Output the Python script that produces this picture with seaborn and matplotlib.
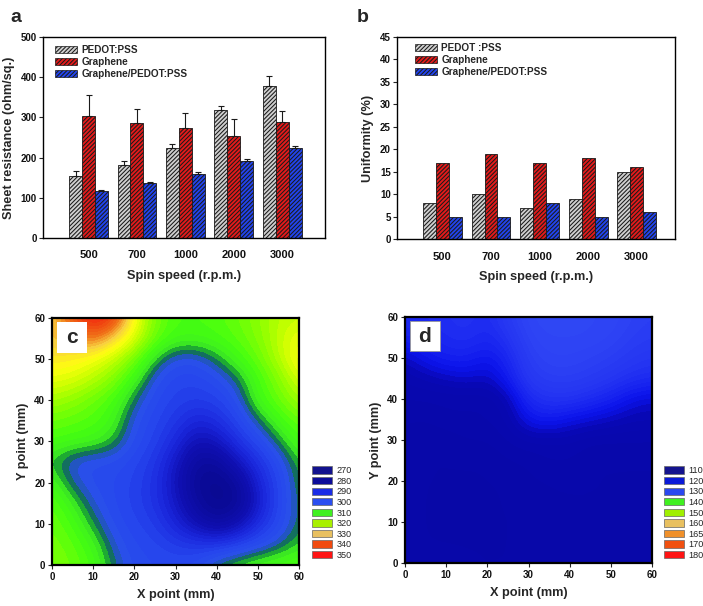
import numpy as np
import pandas as pd
import matplotlib
matplotlib.use('Agg')
import matplotlib.pyplot as plt
import seaborn as sns
from matplotlib.colors import LinearSegmentedColormap, Normalize
from matplotlib.patches import Patch, Rectangle

# ---------------- data ----------------
speeds = ['500', '700', '1000', '2000', '3000']
materials_a = ['PEDOT:PSS', 'Graphene', 'Graphene/PEDOT:PSS']
materials_b = ['PEDOT :PSS', 'Graphene', 'Graphene/PEDOT:PSS']

sheet_pedot = [155, 181, 225, 318, 378]
sheet_graphene = [303, 287, 274, 254, 289]
sheet_hybrid = [117, 137, 158, 191, 223]
err_pedot = [11, 11, 9, 10, 25]
err_graphene = [53, 33, 37, 41, 26]
err_hybrid = [3, 3, 7, 6, 7]

unif_pedot = [8, 10, 7, 9, 15]
unif_graphene = [17, 19, 17, 18, 16]
unif_hybrid = [5, 5, 8, 5, 6]

grid_mm = [0, 5, 10, 15, 20, 25, 30, 35, 40, 45, 50, 55, 60]

# rows: y = 0 ... 60 ; columns: x = 0 ... 60
map_graphene = [
    [315, 313, 310, 303, 299, 298, 298, 299, 304, 307, 309, 310, 311],
    [314, 312, 308, 301, 298, 297, 295, 294, 294, 296, 299, 302, 306],
    [313, 310, 304, 299, 297, 295, 290, 284, 279, 284, 292, 298, 304],
    [312, 307, 301, 298, 296, 293, 287, 278, 274, 276, 288, 297, 304],
    [309, 302, 299, 298, 296, 293, 285, 276, 274, 278, 290, 297, 305],
    [305, 300, 299, 299, 297, 294, 287, 278, 278, 286, 293, 299, 306],
    [310, 309, 308, 305, 299, 296, 291, 284, 286, 293, 298, 304, 310],
    [313, 312, 311, 308, 300, 297, 294, 290, 292, 297, 303, 309, 313],
    [318, 316, 313, 310, 303, 298, 296, 295, 296, 300, 309, 313, 318],
    [323, 322, 319, 315, 308, 300, 297, 297, 299, 303, 310, 315, 322],
    [328, 327, 324, 320, 314, 305, 300, 300, 304, 309, 313, 319, 326],
    [331, 333, 338, 330, 322, 313, 309, 309, 310, 312, 315, 320, 324],
    [330, 340, 349, 344, 325, 314, 310, 310, 311, 313, 316, 319, 320],
]

map_hybrid = [
    [111, 111, 111, 110, 110, 110, 110, 110, 111, 111, 110, 110, 110],
    [111, 110, 110, 110, 110, 110, 110, 110, 111, 111, 110, 110, 110],
    [111, 110, 109, 109, 110, 110, 110, 110, 111, 111, 110, 110, 110],
    [111, 110, 109, 109, 110, 110, 110, 111, 111, 111, 111, 110, 110],
    [111, 110, 110, 110, 110, 110, 111, 111, 111, 111, 111, 111, 111],
    [111, 110, 110, 110, 110, 111, 111, 112, 112, 111, 111, 111, 111],
    [111, 110, 110, 111, 111, 112, 113, 113, 113, 112, 112, 112, 112],
    [111, 111, 112, 112, 112, 113, 118, 119, 117, 116, 115, 114, 114],
    [112, 112, 112, 112, 112, 114, 122, 124, 124, 122, 120, 117, 116],
    [113, 114, 115, 116, 115, 119, 126, 128, 128, 127, 125, 123, 122],
    [115, 118, 120, 120, 118, 121, 128, 130, 130, 129, 128, 126, 125],
    [120, 121, 122, 123, 121, 124, 130, 131, 131, 131, 130, 128, 127],
    [122, 122, 123, 124, 122, 127, 131, 132, 132, 131, 131, 129, 128],
]

legend_c_levels = ['270', '280', '290', '300', '310', '320', '330', '340', '350']
legend_c_colors = ['#12128E', '#0C0C9A', '#1A2CE6', '#2A4EF0', '#40F020',
                   '#A8F000', '#E8C060', '#F04A10', '#FF1414']
legend_d_levels = ['110', '120', '130', '140', '150', '160', '165', '170', '180']
legend_d_colors = ['#14148E', '#0A1AD8', '#2A48F0', '#40F020', '#A0F000',
                   '#E8C060', '#F0902A', '#F05010', '#FF1414']

bar_colors = ['#CFCFCF', '#E41A1A', '#2244EE']

# ---------------- style ----------------
sns.set_style('ticks')
plt.rcParams['font.family'] = ['Liberation Sans', 'DejaVu Sans']
plt.rcParams['font.weight'] = 'bold'
plt.rcParams['axes.labelweight'] = 'bold'
plt.rcParams['hatch.linewidth'] = 0.75
plt.rcParams['hatch.color'] = '#1a1a1a'

fig = plt.figure(figsize=(7.03, 6.06), dpi=100)

ax_a = fig.add_axes([0.0612, 0.6073, 0.4011, 0.3317])
ax_b = fig.add_axes([0.5647, 0.6056, 0.3955, 0.3333])
ax_c = fig.add_axes([0.0740, 0.0677, 0.3514, 0.4076])
ax_d = fig.add_axes([0.5761, 0.0710, 0.3514, 0.4059])

HATCH = '////////'


def bar_panel(ax, vals, mats, ylim, yticks, ylabel, xlim, errs=None, leg_anchor=(0, 1)):
    df = pd.DataFrame({
        'speed': speeds * 3,
        'material': np.repeat(mats, len(speeds)),
        'value': vals[0] + vals[1] + vals[2],
    })
    sns.barplot(data=df, x='speed', y='value', hue='material', order=speeds,
                hue_order=mats, palette=bar_colors, saturation=1, legend=False,
                edgecolor='#1a1a1a', linewidth=0.6, ax=ax, errorbar=None)
    for cont in ax.containers:
        for b in cont:
            b.set_hatch(HATCH)
    if errs is not None:
        for cont, e in zip(ax.containers, errs):
            xs = [b.get_x() + b.get_width() / 2 for b in cont]
            ys = [b.get_height() for b in cont]
            ax.errorbar(xs, ys, yerr=[np.zeros(len(e)), e], fmt='none',
                        ecolor='#1a1a1a', elinewidth=0.8, capsize=2.5,
                        capthick=0.8, zorder=1)
    ax.set_xlim(*xlim)
    ax.set_ylim(*ylim)
    ax.set_yticks(yticks)
    ax.tick_params(axis='x', length=0, pad=9, labelsize=8, labelcolor='#111111')
    ax.tick_params(axis='y', length=3, width=0.8, pad=1.5, labelsize=7, direction='out',
                   labelcolor='#111111')
    ax.set_xlabel('Spin speed (r.p.m.)', fontsize=9.2, labelpad=7)
    ax.set_ylabel(ylabel, fontsize=9.2, labelpad=4)
    for s in ax.spines.values():
        s.set_visible(True)
        s.set_linewidth(1.0)
        s.set_color('black')
    handles = [Patch(facecolor=c, edgecolor='#1a1a1a', hatch=HATCH, linewidth=0.5)
               for c in bar_colors]
    ax.legend(handles, mats, loc='upper left', bbox_to_anchor=leg_anchor,
              frameon=False, fontsize=7.2, handlelength=2.2, handleheight=0.7,
              labelspacing=0.2, handletextpad=0.45, borderpad=0, borderaxespad=0)


bar_panel(ax_a, [sheet_pedot, sheet_graphene, sheet_hybrid], materials_a,
          (0, 500), [0, 100, 200, 300, 400, 500], 'Sheet resistance (ohm/sq.)',
          (-0.94, 4.885), errs=[err_pedot, err_graphene, err_hybrid],
          leg_anchor=(0.0426, 0.96))
bar_panel(ax_b, [unif_pedot, unif_graphene, unif_hybrid], materials_b,
          (0, 45), list(range(0, 50, 5)), 'Uniformity (%)',
          (-0.937, 4.79), leg_anchor=(0.0647, 0.968))

fig.text(0.0142, 0.9637, 'a', fontsize=14, fontweight='bold', va='baseline')
fig.text(0.508, 0.9637, 'b', fontsize=14, fontweight='bold', va='baseline')

# ---------------- contour maps ----------------
cmap_c = LinearSegmentedColormap.from_list('cmap_c', [
    (0.00, '#0C0C78'),
    (0.12, '#0A0A98'),
    (0.21, '#1010B4'),
    (0.28, '#1A26DC'),
    (0.355, '#2646EE'),
    (0.40, '#2A52EA'),
    (0.415, '#1A5A90'),
    (0.428, '#107A48'),
    (0.442, '#20B030'),
    (0.46, '#40F020'),
    (0.50, '#44FF10'),
    (0.57, '#90FF00'),
    (0.62, '#CCFF00'),
    (0.67, '#FFFF10'),
    (0.73, '#F8D040'),
    (0.80, '#F07018'),
    (0.87, '#F04010'),
    (0.94, '#FF1010'),
    (1.00, '#FF0000'),
], N=60)
cmap_d = LinearSegmentedColormap.from_list('cmap_d', [
    (0.00, '#08089E'),
    (0.30, '#0808B2'),
    (0.34, '#0A0AC0'),
    (0.38, '#0A10DA'),
    (0.43, '#0C14EC'),
    (0.52, '#1824F0'),
    (0.65, '#2434F2'),
    (0.80, '#2C40F4'),
    (1.00, '#3450F6'),
], N=30)

step = grid_mm[1] - grid_mm[0]
ext = (grid_mm[0] - step / 2, grid_mm[-1] + step / 2,
       grid_mm[0] - step / 2, grid_mm[-1] + step / 2)


def map_panel(ax, z, cmap, norm, letter, box_edge):
    ax.imshow(np.array(z, dtype=float), origin='lower', extent=ext, cmap=cmap,
              norm=norm, interpolation='bicubic', interpolation_stage='data',
              aspect='auto')
    ax.set_xlim(grid_mm[0], grid_mm[-1])
    ax.set_ylim(grid_mm[0], grid_mm[-1])
    ax.set_xticks(range(0, 61, 10))
    ax.set_yticks(range(0, 61, 10))
    ax.tick_params(length=3, width=0.8, pad=2, labelsize=7, direction='out',
                   labelcolor='#111111')
    ax.set_xlabel('X point (mm)', fontsize=9.2, labelpad=5)
    ax.set_ylabel('Y point (mm)', fontsize=9.2, labelpad=4)
    for s in ax.spines.values():
        s.set_visible(True)
        s.set_linewidth(1.6)
        s.set_color('black')
    ax.add_patch(Rectangle((1.1, 51.6), 7.4, 7.5, facecolor='white',
                           edgecolor=box_edge, linewidth=0.6, zorder=5))
    ax.text(4.8, 55.3, letter, fontsize=15, fontweight='bold', ha='center',
            va='center', zorder=6)


map_panel(ax_c, map_graphene, cmap_c, Normalize(265, 355), 'c', 'none')
map_panel(ax_d, map_hybrid, cmap_d, Normalize(105, 135), 'd', '#999999')


def level_legend(levels, colors, anchor):
    handles = [Patch(facecolor=c, edgecolor='#666666', linewidth=0.5) for c in colors]
    fig.legend(handles, levels, loc='upper left', bbox_to_anchor=anchor,
               frameon=False, prop={'size': 6.6, 'weight': 'normal'},
               handlelength=2.2, handleheight=0.85, labelspacing=0.17,
               handletextpad=0.5, borderpad=0, borderaxespad=0)


level_legend(legend_c_levels, legend_c_colors, (0.4434, 0.2305))
level_legend(legend_d_levels, legend_d_colors, (0.9445, 0.2305))

fig.savefig('out.png', dpi=100)
